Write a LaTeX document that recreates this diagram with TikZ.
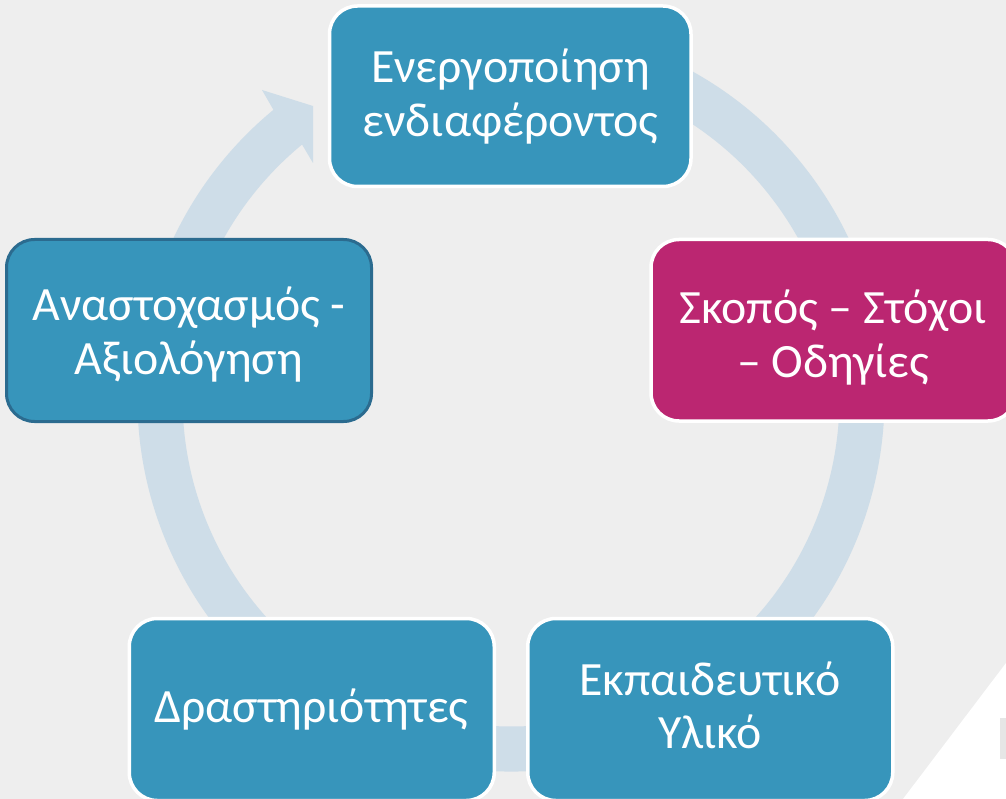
\documentclass[tikz,border=0pt]{standalone}
\usepackage{fontspec}
\setmainfont{Carlito}
\usetikzlibrary{calc}
\definecolor{bgcol}{HTML}{EEEEEE}
\definecolor{ringcol}{HTML}{CEDDE8}
\definecolor{boxblue}{HTML}{3795BB}
\definecolor{boxmag}{HTML}{BB2671}
\definecolor{boxedge}{HTML}{2B6B8F}
\definecolor{tabgray}{HTML}{E6E6E6}
\tikzset{
  cyclebox/.style={rectangle, rounded corners=28pt, fill=boxblue, draw=white,
    line width=3.5pt, inner sep=0pt, minimum width=365pt, minimum height=182pt},
  boxtext/.style={text=white, font=\fontsize{47.8}{53.6}\selectfont, inner sep=0pt, anchor=base},
  ringfill/.style={fill=ringcol}
}
\begin{document}
\begin{tikzpicture}[x=1pt,y=1pt]
\useasboundingbox (0,0) rectangle (1006,-799);
\clip (0,0) rectangle (1006,-799);
\fill[bgcol] (0,0) rectangle (1006,-799);
\fill[white] (1006,-663) -- (903,-799) -- (1006,-799) -- cycle;
\fill[tabgray] (1000,-718) rectangle (1006,-759);
% cycle ring with arrowhead
\coordinate (c) at (511,-398);
\coordinate (headouter) at (262,-90);
\coordinate (headtip) at (313,-106);
\coordinate (headinner) at (313,-163);
\fill[ringfill] ($(c)+(80:373.5pt)$) arc[start angle=80, end angle=-230.5, radius=373.5pt]
  -- (headouter) -- (headtip) -- (headinner)
  -- ($(c)+(129.5:328.5pt)$) arc[start angle=129.5, end angle=440, radius=328.5pt] -- cycle;
% boxes
\node[cyclebox, minimum width=361.5pt, minimum height=180.5pt] (n1) at (510.25,-96.25) {};
\node[cyclebox, fill=boxmag, minimum height=181.5pt] (n2) at (833.5,-330.25) {};
\node[cyclebox] (n3) at (710.25,-709.5) {};
\node[cyclebox] (n4) at (311.75,-709.5) {};
\node[cyclebox, draw=boxedge, line width=3pt] (n5) at (189,-330.5) {};
% texts
\node[boxtext] (t1) at (510.5,-83) {\begin{tabular}[t]{@{}c@{}}Ενεργοποίηση\\ενδιαφέροντος\end{tabular}};
\node[boxtext] (t2) at (833,-324) {\begin{tabular}[t]{@{}c@{}}Σκοπός – Στόχοι\\– Οδηγίες\end{tabular}};
\node[boxtext] (t3) at (710,-695) {\begin{tabular}[t]{@{}c@{}}Εκπαιδευτικό\\Υλικό\end{tabular}};
\node[boxtext] (t4) at (311.5,-722) {Δραστηριότητες};
\node[boxtext] (t5) at (189,-321) {\begin{tabular}[t]{@{}c@{}}Αναστοχασμός -\\Αξιολόγηση\end{tabular}};
\end{tikzpicture}
\end{document}
